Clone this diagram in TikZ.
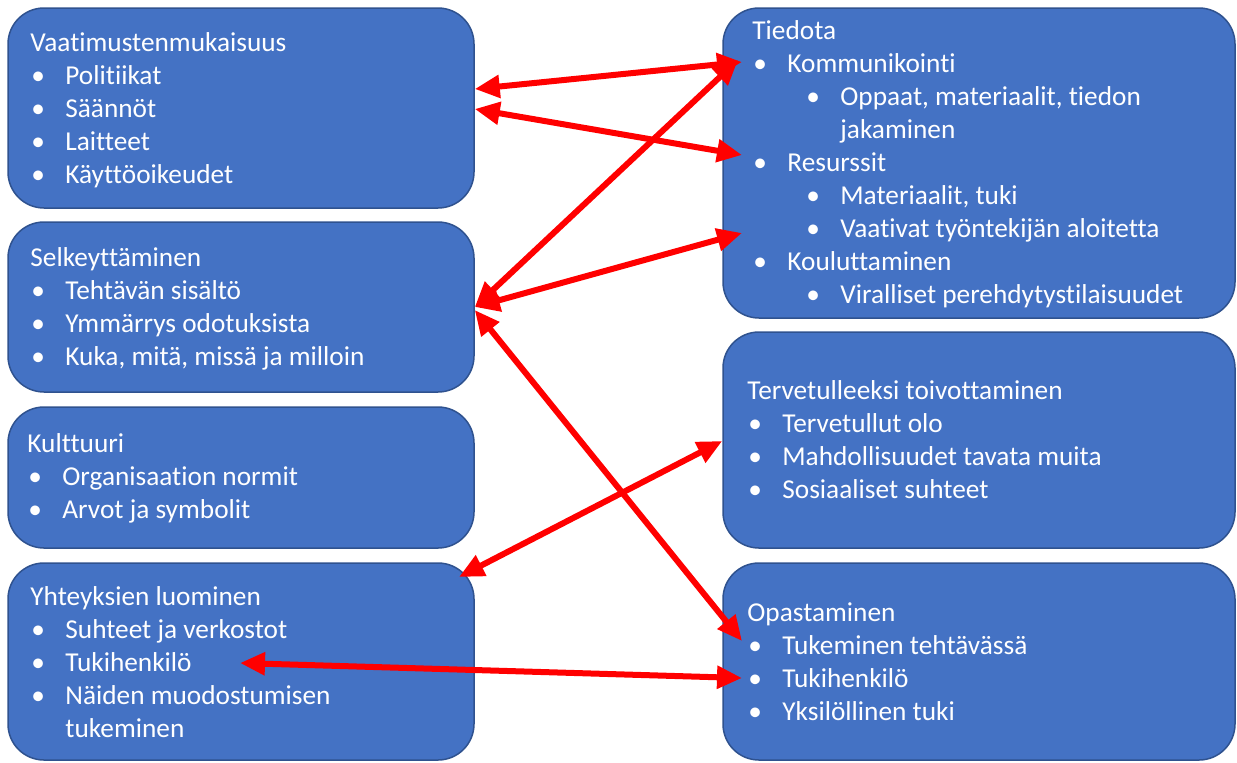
\documentclass[tikz,border=0pt]{standalone}
\usepackage{fontspec}
\setmainfont{Carlito}[Ligatures=NoCommon]
\usepackage{tikz}
\usetikzlibrary{arrows.meta, positioning}
\definecolor{boxblue}{HTML}{4472C4}
\definecolor{boxedge}{HTML}{2F528F}
\tikzstyle{topic} = [rectangle, draw=boxedge, line width=0.75pt, fill=boxblue,
    rounded corners=18pt, inner sep=0pt]
\tikzstyle{content} = [anchor=base west, inner sep=0pt, text=white,
    text width=240pt, align=flush left, font=\fontsize{13.65}{16.5}\selectfont]
\tikzstyle{line} = [draw, red, line width=3pt,
    {Triangle[length=12.5pt,width=11pt]}-{Triangle[length=12.5pt,width=11pt]}]
\newcommand{\itm}{\makebox[17.5pt][l]{\hspace*{0.5pt}•}}
\newcommand{\subitm}{\hspace*{27pt}\makebox[17pt][l]{•}}

\begin{document}
\begin{tikzpicture}[x=0.5pt, y=-0.5pt]
    \useasboundingbox (0,0) rectangle (1237,762);
    % Boxes
    \node [topic, minimum width=233pt, minimum height=100pt] (vaat) at (241,108) {};
    \node [topic, minimum width=233pt, minimum height=85pt] (selk) at (241,307) {};
    \node [topic, minimum width=233pt, minimum height=70.5pt] (kult) at (241,477.5) {};
    \node [topic, minimum width=233pt, minimum height=98.5pt] (yhte) at (241,661.5) {};
    \node [topic, minimum width=256pt, minimum height=155pt] (tied) at (979,163) {};
    \node [topic, minimum width=256pt, minimum height=108pt] (terv) at (979,440) {};
    \node [topic, minimum width=256pt, minimum height=98.5pt] (opas) at (979,661.5) {};
    % Texts
    \node [content] (vaat-txt) at (30,51) {Vaatimustenmukaisuus\\
        \itm Politiikat\\ \itm Säännöt\\ \itm Laitteet\\ \itm Käyttöoikeudet};
    \node [content] (selk-txt) at (30,266) {Selkeyttäminen\\
        \itm Tehtävän sisältö\\ \itm Ymmärrys odotuksista\\ \itm Kuka, mitä, missä ja milloin};
    \node [content] (kult-txt) at (27,452) {Kulttuuri\\
        \itm Organisaation normit\\ \itm Arvot ja symbolit};
    \node [content] (yhte-txt) at (30,605) {Yhteyksien luominen\\
        \itm Suhteet ja verkostot\\ \itm Tukihenkilö\\ \itm Näiden muodostumisen\\
        \hspace*{17.5pt}tukeminen};
    \node [content] (tied-txt) at (752,39) {Tiedota\\
        \itm Kommunikointi\\ \subitm Oppaat, materiaalit, tiedon\\
        \hspace*{44pt}jakaminen\\
        \itm Resurssit\\ \subitm Materiaalit, tuki\\ \subitm Vaativat työntekijän aloitetta\\
        \itm Kouluttaminen\\ \subitm Viralliset perehdytystilaisuudet};
    \node [content] (terv-txt) at (747,399) {Tervetulleeksi toivottaminen\\
        \itm Tervetullut olo\\ \itm Mahdollisuudet tavata muita\\ \itm Sosiaaliset suhteet};
    \node [content] (opas-txt) at (747,621) {Opastaminen\\
        \itm Tukeminen tehtävässä\\ \itm Tukihenkilö\\ \itm Yksilöllinen tuki};
    % Arrow ends
    \coordinate (vaat-a) at (vaat.east |- 0,89);
    \coordinate (vaat-b) at (vaat.east |- 0,109);
    \coordinate (selk-a) at (selk.east |- 0,307);
    \coordinate (selk-b) at (selk.east |- 0,310);
    \coordinate (yhte-a) at (459,577);
    \coordinate (yhte-b) at (240,663);
    \coordinate (tied-a) at (742,62);
    \coordinate (tied-b) at (738,60);
    \coordinate (tied-c) at (742,155);
    \coordinate (tied-d) at (742,233);
    \coordinate (terv-a) at (terv.west |- 0,441);
    \coordinate (opas-a) at (742,641);
    \coordinate (opas-b) at (742,678);
    % Edges
    \path [line] (vaat-a) -- (tied-a);
    \path [line] (vaat-b) -- (tied-c);
    \path [line] (selk-a) -- (tied-b);
    \path [line] (selk-a) -- (tied-d);
    \path [line] (selk-b) -- (opas-a);
    \path [line] (yhte-a) -- (terv-a);
    \path [line] (yhte-b) -- (opas-b);
\end{tikzpicture}
\end{document}
